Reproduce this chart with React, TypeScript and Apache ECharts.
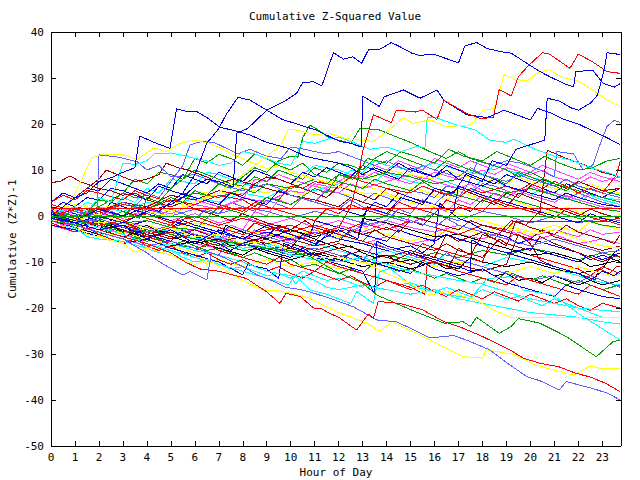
import React, { useEffect, useRef } from "react";
import * as echarts from "echarts";

type P = [number, number];

const TITLE = "Cumulative Z-Squared Value";
const X_NAME = "Hour of Day";
const Y_NAME = "Cumulative (Z*Z)-1";
const X_MAX = 23.78;

// ---- series values: [hour, cumulative value] ----
const L1: P[] = [[0,0],[1,-1.5],[2,0],[3,-1.5],[4,1],[5,2.5],[5.5,4],[6,6.5],[6.5,8],[7,7.5],[7.6,6.3],[7.75,18],[8.2,19],[9,23],[9.7,24.8],[10.25,26.7],[10.5,29],[10.95,29.2],[11.3,28.3],[11.78,35.5],[12.2,34.1],[12.6,34.6],[12.96,33.2],[13.24,36.1],[13.7,36.2],[14.2,37.7],[14.56,36.8],[15.05,35.4],[15.45,34.8],[15.67,35.2],[16,35.1],[16.5,34.2],[17,33.3],[17.27,37],[17.76,37.7],[18.2,36.4],[18.8,35.7],[19.2,35.4],[19.85,33.2],[20.4,31.4],[20.8,30.3],[21.4,28.8],[21.8,28.1],[21.9,31.4],[22.6,31.7],[23.04,28.8],[23.5,28],[23.75,28.8]];
const L2: P[] = [[0,0.5],[1,-1],[2,1.5],[3,0],[4,2],[4.5,1],[5,3],[5.5,5],[6,9],[6.5,15.8],[7,19],[7.3,22],[7.8,25.8],[8.3,25.2],[9,23],[9.65,21],[10.5,19.6],[11.05,18.7],[12.05,16.2],[12.5,15.8],[12.95,15],[13.0,26.1],[13.7,23.8],[13.9,25.9],[14.7,27.4],[15.4,25.6],[16.1,27.4],[16.4,25.1],[17.35,22],[18.2,21.4],[18.9,23],[20,20.9],[20.3,23.4],[20.8,22.5],[21.4,21],[22,20],[22.6,18.5],[23.2,17],[23.75,15.5]];
const L3: P[] = [[0,-0.5],[1,-1.5],[2,-3],[3,-2],[4,-5],[5,-3],[6,-6],[7,-3],[8,-5],[9,-2],[10,-4],[11,-6],[12,-3],[12.8,-5],[13.2,2],[14,0.5],[14.6,4],[15.5,2.5],[16,6],[16.8,5],[17.3,9],[18,7.5],[18.4,12],[19,11],[19.4,14.5],[20,15.5],[20.6,16.5],[20.7,25.6],[21.2,25],[21.7,23.5],[22,23],[22.5,24.5],[22.8,26.3],[23.07,31.6],[23.2,35.5],[23.75,35.1]];
const B0: P[] = [[0,0],[0.5,2],[1,4],[1.5,5],[2,7.5],[2.5,8.3],[3,9.5],[3.5,10.5],[3.7,17.4],[4.3,16],[4.96,14.7],[5.24,23.3],[5.66,22.7],[6.08,22.7],[6.5,21.4],[7.05,19.3],[7.7,18.5],[8.3,17.6],[9,16],[9.7,15],[10,14.5],[10.6,13],[11.2,12.3],[12,11.5],[12.5,10.5],[13,9],[13.5,10.5],[14,9.5],[14.5,11.5],[15,10],[16,8.5],[16.5,10],[17,8],[18,6.5],[18.5,8],[19,6.5],[20,5],[21,3.5],[21.5,5],[22,4],[23,2.5],[23.75,2]];
const RC: P[] = [[0,1],[1,-0.5],[2,-2],[3,-1],[4,-4],[5,-2.5],[6,-1],[7,-2.5],[8,-4],[9,-3],[10,-2],[11,-4],[12,-2.5],[12.5,2],[12.8,8],[13.0,14],[13.45,22],[14.2,20.3],[14.4,23],[15.2,22.6],[15.5,23],[16.1,21],[16.4,25.1],[17.35,22.3],[17.9,21.2],[18.45,21.4],[18.7,27.5],[19.2,26.1],[19.5,30.3],[19.9,32.6],[20.5,35.5],[20.8,35.2],[21.65,32.1],[22.0,35.2],[22.6,33.5],[23.2,31.4],[23.75,31]];
const YD: P[] = [[0,0.5],[1,-1],[2,0.5],[3,-1.5],[4,1],[5,0],[6,3],[7,5],[7.5,7],[8,9],[8.5,11],[9,13],[9.6,15.5],[9.9,18.8],[10.2,18.7],[10.6,18.2],[11,17.7],[11.6,18],[12.3,16.8],[13.45,16.2],[14.1,18.7],[14.7,21.4],[15.1,20.1],[15.8,20.9],[16.5,19.4],[17.5,19.8],[18.04,23],[18.5,23.4],[18.9,30.7],[19.4,29.6],[19.9,29.5],[20.3,31.2],[20.8,31.8],[21.3,30.2],[22.0,29.3],[22.8,26.7],[23.2,25.2],[23.75,23.8]];
const Y3: P[] = [[0,0],[0.8,3],[1.2,7],[1.7,12.7],[2.2,13.5],[3,13.3],[3.6,12.3],[4.3,14.8],[4.8,14],[5.4,15.8],[6,16.5],[6.6,15.8],[7.2,14.5],[7.5,13.6],[8.2,12],[9,10.3],[9.5,11],[10,9.5],[11,8],[12,6.5],[13,5],[14,4.5],[15,3],[16,2],[17,0.5],[18,-1],[19,-2.5],[20,-4],[21,-3],[22,-5],[23,-6.5],[23.75,-7]];
const S1: P[] = [[0,0],[1,-1],[1.9,-1],[2.0,13.3],[2.8,12.8],[3.6,11.8],[4,10],[4.5,11],[5,8.5],[6,9],[7,7],[8,5.5],[9,7],[9.5,6],[10,4.5],[11,3],[12,1.5],[12.5,3.5],[13,2],[14,0.5],[15,-1],[16,-2.5],[16.5,-0.5],[17,-2],[18,-3.5],[19,-5],[20,-6.5],[21,-5],[22,-6.5],[23,-8],[23.75,-7.5]];
const GS: P[] = [[0,0],[1,-2],[2,-3.5],[3,-5],[4,-8],[4.5,-9.9],[5.1,-11.7],[5.5,-12.8],[5.8,-12.1],[6.5,-13.9],[6.7,-8],[7.2,-9],[8,-11],[8.6,-12.8],[9.2,-14],[9.8,-15.5],[10.4,-16],[10.8,-16.5],[11.64,-17.9],[12.6,-19.7],[13.6,-22.6],[14.4,-23],[15,-24.4],[15.8,-26.5],[16.8,-26],[17.35,-27],[18.3,-29.1],[19.15,-32.4],[19.85,-34.9],[20.5,-36],[21.2,-37.8],[21.5,-36],[22.6,-37.5],[23.2,-38.5],[23.75,-40]];
const RH: P[] = [[0,0],[1,-1.5],[2,-3],[3,-4.5],[4,-6],[5,-8],[5.6,-10],[6.2,-11.5],[7,-12],[8.16,-13.6],[9,-16.5],[9.55,-19],[9.8,-16.8],[10.4,-17.5],[10.95,-20],[11.3,-20.2],[11.64,-21.2],[12,-22],[12.75,-24.8],[13.24,-21.3],[13.45,-22.3],[13.65,-18.6],[14.56,-19],[15.5,-20.4],[16.4,-23],[17.2,-24.4],[18,-26.2],[19.15,-29.1],[19.7,-30.9],[20.4,-32],[21.2,-32.8],[21.9,-34.2],[22.5,-35],[23.15,-36.4],[23.75,-38.2]];
const YI: P[] = [[0,0],[1,-2],[1.5,-4],[2,-4.5],[3,-6],[3.5,-7.8],[4,-7],[5,-8.5],[6,-10.5],[6.6,-9.5],[7,-11],[8,-14],[8.85,-16.1],[9.5,-16.3],[10.2,-17],[10.8,-17.9],[11.9,-20.8],[13.2,-23.3],[13.7,-25.1],[14.25,-23],[15.4,-25.9],[16.5,-28.8],[17.2,-30.6],[18,-30.9],[18.15,-29.1],[19.4,-30.2],[20.2,-32.4],[21,-33.5],[21.8,-34.6],[22.5,-32.6],[23,-33.2],[23.75,-33.1]];
const CK: P[] = [[0,0],[1,-1],[2,-2.5],[3,-4],[4,-6],[5,-7.5],[6,-9],[7,-10.5],[8,-12],[9,-13.5],[9.9,-15],[10.2,-13],[10.8,-16.1],[11.5,-17],[12.5,-19],[12.75,-16.4],[13.45,-19],[13.7,-12.1],[14.15,-11.4],[15.1,-15.4],[16.65,-17.2],[17.5,-17.9],[18.2,-13.6],[19.15,-13.2],[19.7,-16.1],[20.95,-17.2],[22.2,-21.9],[23,-24.5],[23.75,-27]];
const CK2: P[] = [[0,0.5],[1,-0.5],[2,-2],[3,-1.5],[4,-3.5],[5,-3],[6,-5],[7,-4.5],[8,-7],[9,-6.5],[10,-8.5],[11,-9.5],[12,-10],[13,-9],[14,-10.5],[15,-12],[16,-13],[17,-14],[18,-14.8],[19,-16.5],[20,-18],[21,-19],[22,-20],[23,-20.5],[23.75,-20.8]];
const YL: P[] = [[0,0],[1,-0.5],[2,-1.5],[3,-1],[4,-3],[5,-2.5],[6,-4.5],[7,-4],[8,-6],[9,-5.5],[10,-7.5],[11,-9],[12,-9],[13.2,-10.3],[14,-12.5],[14.85,-14.3],[15.8,-17.2],[16.5,-16.4],[17.75,-18.3],[18.45,-20.4],[19.15,-22],[23.75,-22]];
const GJ: P[] = [[0,0],[1,-1],[2,-2],[3,-3.5],[4,-3],[5,-4],[6,-5],[7,-5.5],[8,-6],[9,-7],[10,-7.5],[10.8,-8.8],[11.9,-12.1],[13,-14.6],[13.6,-17.2],[14.4,-19],[15.2,-20.8],[16.4,-23.3],[17.2,-23],[17.5,-24],[17.75,-22],[18.7,-25.5],[19.2,-24],[19.5,-22.3],[20.4,-23.3],[21.5,-26.2],[22.75,-30.6],[23.45,-27.3],[23.75,-27]];
const G1: P[] = [[0,0.5],[1,-0.5],[2,1.5],[3,0],[3.5,2.5],[4,1.5],[5,4],[5.5,3],[6,5.5],[6.5,4.5],[7,7],[7.5,6],[8,8.5],[8.5,10.5],[9,9.5],[9.5,12],[10,13],[10.3,12.8],[10.5,17],[10.8,19.8],[11.2,18.5],[11.6,17],[12,16.5],[12.5,15.8],[12.9,19.1],[13.7,18.7],[14.56,16.9],[15.1,15.8],[15.8,14],[16.5,12.5],[17,14],[17.5,12.5],[18.3,11.3],[19,10],[19.5,8.5],[20,9.5],[21,7],[22,5.5],[23,4],[23.75,3]];
const G2: P[] = [[0,-1],[1,-2],[2,-1],[3,1],[3.7,-0.5],[4,4],[4.5,3],[5,6],[5.5,8],[6,12.5],[6.5,11.5],[7,13.4],[7.5,12.5],[8,11],[8.5,13.5],[9,12.5],[9.5,11],[10,10],[10.5,11.5],[11,9],[12,7.5],[13,6],[13.5,8],[14,7],[15,5.5],[15.5,7.5],[16,6],[17,4.5],[18,3],[18.5,5],[19,4],[20,2.5],[21,1],[22,-0.5],[23,-2],[23.75,-2.5]];
const G3: P[] = [[0,0],[1,-1],[2,-2],[3,-1.5],[4,-1],[5,-2.5],[6,-3],[7,2],[8,0.5],[9,4],[10,2.5],[11,6],[11.5,5],[12,9],[12.6,8],[13.2,12.5],[14,11.5],[14.6,14],[15.2,13],[16,11.5],[16.6,14.5],[17.2,13],[18,12],[18.6,14],[19.3,12.5],[20,11],[20.6,13],[21.2,11.5],[22,10],[22.6,10.5],[23.2,12],[23.75,12.5]];
const CY1: P[] = [[0,0.5],[1,2],[1.5,1],[2,4],[2.5,3],[3,11.5],[3.5,11.2],[4,12],[4.3,13.5],[5,13.7],[5.5,13.2],[6,12.5],[6.5,12],[7,11],[7.5,11.5],[8,14],[8.5,13.5],[9,12.5],[9.5,11.5],[10,11],[10.5,16.2],[11,15.8],[11.6,16.8],[12.05,17.1],[12.6,16],[13.3,14.5],[14,15],[14.6,14],[15.3,15.2],[15.6,14.8],[15.7,21.4],[16.1,21.3],[16.8,20],[17.7,18.7],[18.3,16.5],[19,16],[19.3,16.7],[19.6,16],[20.2,14.5],[21,13],[21.8,12],[22.5,10.5],[23.2,9.5],[23.75,8.5]];
const S2: P[] = [[0,-0.5],[1,1],[2,0],[3,3],[3.5,2],[4,5],[4.5,4],[5,7.5],[5.5,11],[5.8,15.5],[6.3,16.2],[6.8,16],[7.2,15],[7.8,13.5],[8.3,14.5],[9,13],[9.6,12.5],[10,15],[10.6,14.5],[11,14],[11.5,13.5],[12,14],[12.5,13],[13,12],[13.5,11],[14,12],[14.6,10.5],[15,9.5],[15.5,11],[16,10],[17,8.5],[17.5,10.5],[18,9],[19,7.5],[19.5,9],[20,8],[21,6.5],[21.5,8],[22,6.5],[23,5],[23.75,4]];
const S3: P[] = [[0,0],[1,-1.5],[2,-0.5],[3,-2.5],[4,-3.5],[5,-2],[6,-4],[7,-5],[8,-3],[9,-4.5],[10,-6],[11,-3.5],[12,-5],[13,-2],[14,-1],[14.5,1.5],[15,0.5],[15.5,3.5],[16,2.5],[16.5,5],[17,4],[17.4,7],[17.8,12],[18.4,11],[19,12],[19.6,11.5],[20.4,10],[21,8.5],[21.1,14],[21.8,13.5],[22.2,10],[22.6,11],[22.9,15.5],[23.2,19.5],[23.5,20.8],[23.75,20.3]];
const M1: P[] = [[0,-1],[0.5,-2],[1,-1.5],[1.5,-3],[2,-2],[3,-4],[3.5,-2.5],[4,-4],[5,-5.5],[5.5,-3],[6,-4],[7,-5.5],[7.5,-2],[8,-3],[8.5,1],[9,0],[9.5,3.5],[10,2.5],[10.5,4],[11,3],[11.5,6],[12,7.5],[12.5,9],[13,8],[13.5,9.5],[14,8.5],[15,7],[15.5,8.5],[16,7.5],[17,6],[17.5,7],[18,5.5],[19,4],[19.5,5.5],[20,4.5],[21,3],[21.5,4.5],[22,3.5],[23,2],[23.75,1.5]];
const M2: P[] = [[0,0.5],[1,-0.5],[2,-2],[3,-1],[4,-2.5],[5,-4],[6,-3],[7,-4.5],[8,-6],[8.5,-3],[9,-4],[10,-5.5],[11,-3],[11.5,-4],[12,-2],[13,-3.5],[14,-1.5],[14.5,-3],[15,0],[15.5,-1],[16,2],[16.5,1],[17,3.5],[17.5,2.5],[18,4.5],[18.5,3],[19,5.5],[19.5,4.5],[20,6.5],[20.5,5.5],[21,5],[22,3.5],[22.5,5],[23,4],[23.75,3]];
const M3: P[] = [[0,-2],[1,-3.5],[2,-2.5],[3,-4],[4,-5.5],[5,-4.5],[6,-6],[7,-7],[7.5,-5.5],[8,-6.5],[9,-4],[10,-5],[11,-3.5],[12,-5],[13,-6],[14,-4.5],[15,-6],[16,-5],[16.5,-3],[17,-4],[18,-5],[19,-3],[19.5,-4],[20,-5.5],[21,-4],[21.5,-5],[22,-6],[23,-5],[23.75,-6]];
const M4: P[] = [[0,0],[1,2],[2,1],[3,3],[4,2],[5,4.5],[6,3.5],[7,2],[8,3.5],[8.5,8],[9,7.5],[9.5,9],[10,8],[11,6.5],[12,5],[12.5,7],[13,6],[14,7.5],[15,9],[15.5,8],[16,9.5],[17,8],[18,10],[18.5,9],[19,10.5],[20,9],[20.5,10],[21,8.5],[22,7],[22.5,8.5],[23,7.5],[23.75,8.5]];
const M5: P[] = [[0,1.5],[1,0],[2,1.5],[3,-0.5],[4,1],[5,-1],[6,0.5],[7,-1.5],[8,0],[9,-2],[10,-0.5],[11,-2.5],[12,-1],[13,-2.5],[14,-1],[15,-2.5],[16,-3.5],[17,-2],[18,-3.5],[19,-5],[19.5,-3.5],[20,-4.5],[21,-3],[22,-4.5],[22.5,-3],[23,-4],[23.75,-3.5]];
const BL1: P[] = [[0,1],[0.5,3],[1,2],[1.5,4],[2,3.5],[2.5,6],[3,5.5],[3.5,4.5],[4,3.5],[4.5,6.5],[5,5.5],[6,4],[7,2.5],[7.5,5],[8,4],[9,2.5],[9.5,5.5],[10,4.5],[11,3],[12,1.5],[13,0],[13.5,3],[14,2],[14.5,5],[15,4],[16,2.5],[16.8,1],[17,6.5],[17.5,5.5],[18,4.5],[19,3],[20,1.5],[21,0],[22,-1.5],[22.5,0.5],[23,-0.5],[23.75,-1.5]];
const BL2: P[] = [[0,-1],[1,-2.5],[2,-1],[2.5,3],[3,2],[4,0.5],[5,-1],[6,-2.5],[7,-4],[7.5,-2],[8,-3],[9,-4.5],[9.5,-2],[10,-3],[10.8,-4.5],[11,-1],[12,-2.5],[13,-4],[14,-5.5],[14.5,-3],[15,-4],[16,-5.5],[16.5,-4],[17,-5],[18,-6.5],[19,-8],[20,-7],[21,-8.5],[22,-10],[22.5,-8.5],[23,-9.5],[23.75,-8]];
const BL3: P[] = [[0,2],[1,0.5],[2,-1],[3,-2.5],[4,-1],[5,-2.5],[5.5,-1],[6,-2],[7,-3.5],[8,-5],[9,-3.5],[10,-5],[11,-6.5],[11.5,-4],[12,-5],[13,-6],[14,-7.5],[15,-6.5],[15.5,-8],[16,-6],[16.2,2.8],[16.5,1.5],[17,-0.5],[17.5,-1.5],[18,-3],[19,-4.5],[19.5,-6],[20,-5],[21,-6.5],[22,-8],[22.5,-9.5],[23,-8.5],[23.75,-10]];
const BL4: P[] = [[0,-2],[1,-3],[2,-4.5],[3,-6],[4,-5],[5,-7],[6,-8.5],[7,-10],[8,-12.8],[8.2,-10.6],[9,-11.5],[9.5,-13.6],[9.7,-6],[10.5,-7.5],[11,-9],[12,-10.5],[13,-12],[13.5,-17],[13.6,-5.5],[14,-6.5],[15,-8],[16,-9.5],[17,-11],[17.5,-12],[17.55,-5.2],[18,-6.5],[19,-8],[20,-9.5],[21,-11],[22,-12.5],[22.5,-14],[23,-12],[23.5,-13],[23.75,-12]];
const BL5: P[] = [[0,0],[1,-1.5],[2,-3],[2.5,-1],[3,-2.5],[4,-4],[5,-5.5],[5.5,-3],[6,-4.5],[7,-6],[7.5,-7.5],[8,-6],[9,-7.5],[10,-9],[10.5,-7],[11,-8.5],[12,-10],[12.5,-8],[13,-9.5],[14,-11],[15,-12.5],[15.5,-10],[16,-11.5],[17,-13],[18,-11.5],[18.5,-13],[19,-14.5],[20,-16],[21,-17.5],[21.5,-15],[22,-16],[23,-17.5],[23.75,-18]];
const R1: P[] = [[0,2.5],[1,1],[2,-0.5],[2.5,2],[3,1],[4,-0.5],[5,-2],[5.5,0],[6,-1],[7,-2.5],[8,-4],[8.5,-1.5],[9,-2.5],[10,-4],[11,-5.5],[11.5,-3],[12,-4],[13,-5.5],[14,-7],[15,-8.5],[15.5,-6],[16,-7],[17,-8.5],[18,-10],[18.3,-6],[19,-7],[20,-8.5],[21,-10],[22,-11.5],[22.5,-13],[23,-11],[23.75,-12.5]];
const R2: P[] = [[0,-0.5],[1,-2],[2,-3.5],[3,-5],[3.5,-3],[4,-4.5],[5,-6],[6,-7.5],[6.5,-6],[7,-7.5],[8,-9],[9,-10.5],[9.5,-9],[10,-10.5],[11,-12],[11.5,-10],[12,-11],[13,-12.5],[14,-14],[15,-15.5],[15.6,-17],[15.7,-10],[16.3,-10.5],[17,-12],[18,-13.5],[19,-15],[19.5,-13],[20,-14],[21,-15.5],[22,-17],[22.5,-15],[23,-16],[23.75,-17.5]];
const R3: P[] = [[0,3],[0.5,4.5],[1,3.5],[1.5,5.5],[2,5],[3,3.5],[3.5,5.5],[4,4.5],[5,3],[5.5,5],[6,4],[7,2.5],[8,1],[8.5,3],[9,2],[10,0.5],[11,-1],[11.5,1.5],[12,0.5],[12.5,2.5],[13,1.5],[14,0],[14.5,3],[15,2],[16,0.5],[16.5,3.5],[17,2.5],[18,1],[18.5,3.5],[19,2.5],[20,1],[21,-0.5],[21.5,1.5],[22,0.5],[23,-1],[23.75,-0.5]];
const R4: P[] = [[0,1],[1,-0.5],[2,1],[3,-1],[4,0.5],[5,-1.5],[6,0],[7,-2],[8,-0.5],[9,-2],[10,-3.5],[11,-2],[12,-3.5],[13,-1.5],[14,-3],[15,-1],[16,-2.5],[17,-4],[18,-2],[19,-3],[19.3,-1.2],[23.3,-1.2],[23.75,-2]];
const R5: P[] = [[0,0],[1,1.5],[2,0.5],[3,2.5],[4,1.5],[5,3.5],[6,2.5],[7,4.5],[8,3.5],[8.5,2],[9,4],[9.5,3.5],[10,6.5],[10.5,6],[11,7.5],[12,6.5],[12.5,8.5],[13,7.5],[14,6],[15,5],[15.5,6.5],[16,5.5],[17,4],[17.5,6],[18,5],[19,6.5],[19.5,5.5],[20,7],[20.5,6],[21,7.5],[21.5,6.5],[22,5],[22.5,6],[23,5],[23.6,9],[23.75,12]];
const DR1: P[] = [[0,7.2],[0.4,7.6],[0.8,8.7],[1.2,7.5],[2,6],[2.5,5.5],[3,4.5],[3.5,5],[4,3.5],[5,2],[5.5,3],[6,1.5],[7,0],[7.5,-1],[8,0.5],[9,-1.5],[10,-3],[10.6,-1],[11,-2.5],[12,-4],[13,-5.5],[13.5,-3],[14,-4.5],[15,-6],[16,-7.5],[16.5,-6],[17,-7.5],[18,-9],[18.7,-5],[19,-6],[20,-7.5],[20.4,-4.5],[21,-6],[22,-8],[22.5,-9],[23,-10],[23.6,-8.5],[23.75,-9]];
const DR2: P[] = [[0,1],[1,-0.5],[2,-2],[3,-1],[4,-3],[5,-4.5],[6,-3],[7,-5],[8,-6.5],[9,-5],[10,-7],[11,-8.5],[12,-7],[13,-9],[14,-10.5],[15,-8],[16,-10],[16.6,-11],[17,-7],[17.5,-8.5],[18,-4],[18.5,-5],[19.2,-1],[19.8,-2],[20.4,1],[20.7,14.3],[21.5,12.5],[22.3,11],[23,9.5],[23.75,8.5]];
const DR3: P[] = [[0,-1],[1,-2.5],[2,-1.5],[3,-3],[4,-4.5],[5,-3.5],[6,-5],[7,-6.5],[7.5,-5],[8,-6],[9,-7.5],[10,-6],[11,-7.5],[12,-9],[13,-7.5],[14,-9],[15,-10.5],[16,-9],[17,-10.5],[18,-12],[19,-10.5],[19.5,-4],[20,-6],[20.4,-9.6],[21,-11],[22,-12.5],[22.7,-13.9],[22.85,-11.4],[23.3,-12.5],[23.6,-11],[23.75,-11]];
const DR4: P[] = [[0,0],[0.5,2],[1,4],[1.5,6],[2,8],[2.3,10],[3,8.5],[3.5,7.5],[4,8],[4.5,9],[4.8,11.5],[5.3,10.5],[5.7,10],[6.5,8.5],[7,7],[7.6,8],[8.3,7],[9,6],[10,4.5],[11,3.5],[12,2],[12.5,4],[13,3],[14,1.5],[15,0],[16,-1.5],[17,-3],[17.5,-1],[18,-2],[19,-3.5],[20,-5],[20.5,-3],[21,-4.5],[22,-6],[23,-7.5],[23.75,-6.5]];
const DR5: P[] = [[0,0.5],[1,-1],[2,-2.5],[3,-1.5],[4,-3],[5,-4.5],[6,-3],[7,-4.5],[8,-6],[9,-4.5],[10,-6],[11,-7.5],[12,-6],[13,-7.5],[14,-9],[15,-7.5],[16,-9],[16.5,-4],[17,-5.5],[18,-3.5],[18.5,-5],[19,-6.5],[19.4,-1],[20,-2.5],[21,-4],[21.5,-2],[22,-3.5],[23,-5],[23.5,-6],[23.75,-4]];
const BK1: P[] = [[0,0],[1,-1.5],[2,-3],[3,-4.5],[4,-3],[5,-4.5],[6,-6],[7,-5],[7.3,-2],[8,-3.5],[9,-5],[10,-3],[11,-4.5],[12,-3],[12.8,-5],[13,-0.5],[14,-1.5],[15,-3],[16,-4.5],[17,-4],[18,-5.5],[19,-7],[20,-8.5],[21,-8],[22,-9.5],[22.5,-11],[23,-10.5],[23.75,-9.5]];
const BK2: P[] = [[0,-1],[1,-2.5],[2,-4],[3,-3],[4,-5],[5,-6.5],[6,-5.5],[7,-7],[8,-8.5],[8.5,-7],[9,-8],[10,-9.5],[11,-8],[12,-9.5],[13,-11],[14,-10],[15,-11.5],[16,-10],[17,-11.5],[17.5,-9],[18,-10],[19,-11],[20,-10],[21,-11.5],[22,-12.5],[23,-11.5],[23.5,-8],[23.75,-7]];
const Y5: P[] = [[0,1],[1,2.5],[2,1.5],[3,3],[4,2],[5,1],[6,3],[7,5.5],[7.5,4.5],[8,6],[9,5],[10,6.5],[10.5,9],[11,8],[12,7],[13,9.5],[13.5,8.5],[14,10],[15,9],[16,8],[16.5,10],[17,9],[18,8],[19,7],[19.5,8.5],[20,7.5],[21,6],[22,5],[22.5,7],[23,6],[23.75,5]];
const Y6: P[] = [[0,-1.5],[1,-3],[2,-4.5],[3,-3.5],[4,-5],[5,-6.5],[6,-8],[6.5,-10.5],[7,-9.5],[8,-11],[9,-9.5],[10,-11],[11,-10],[12,-11.5],[13,-10],[14,-11],[15,-9.5],[16,-11],[17,-10],[18,-11],[19,-12.5],[20,-11],[21,-12.5],[22,-11],[23,-12.5],[23.75,-13]];
const Y7: P[] = [[0,0],[1,-1.5],[2,-1],[3,-2.5],[4,-2],[5,-3.5],[6,-1.5],[7,-2.5],[8,-3],[9,-4],[10,-4.5],[11,-3],[12,-4.5],[13,-2.5],[14,-4],[15,-5.5],[16,-4],[17,-2.5],[18,-4],[19,-2],[20,-3.5],[21,-2],[22,-3.5],[22.5,-1],[23,-2],[23.75,-3]];
const CY3: P[] = [[0,0],[0.5,-1],[1,-2.5],[1.5,-4.5],[2,-5],[3,-5.5],[4,-7],[5,-6],[6,-7.5],[7,-8.5],[8,-10],[8.5,-11],[9,-12],[10,-13],[10.2,-14.8],[10.5,-13],[11,-14],[11.5,-15.5],[12,-16],[13,-15],[14,-16],[15,-17],[16,-16],[17,-18],[18,-19],[19,-20],[20,-21],[21,-21.5],[22,-22],[23,-23],[23.75,-23.5]];
const CY4: P[] = [[0,1],[1,0],[2,2],[3,1],[4,3],[5,2],[6,4],[7,3],[8,5],[9,4],[10,6.5],[11,5.5],[12,7],[12.5,10],[13,9.5],[13.5,12],[14,11],[15,10],[16,11.5],[17,10],[18,9],[18.5,11],[19,10],[20,8.5],[21,7],[22,5.5],[23,4],[23.75,3.5]];
const CY5: P[] = [[0,-0.5],[1,-1.5],[2,-3],[3,-4.5],[4,-3.5],[5,-5],[6,-4],[7,-5.5],[8,-7],[9,-6],[10,-7.5],[11,-6],[12,-7.5],[13,-9],[14,-7.5],[15,-9],[16,-10.5],[16.5,-8],[17,-9.5],[18,-11],[19,-9],[20,-10],[21,-11.5],[22,-13],[23,-14.5],[23.75,-15]];
const GR4: P[] = [[0,0],[1,-1],[2,-2],[3,-3],[3.5,-5],[4,-4],[5,-6],[6,-7],[7,-6],[8,-7.5],[9,-7],[10,-8.5],[11,-8],[11.5,-10],[12,-9],[13,-10],[14,-8.5],[15,-9.5],[16,-8],[17,-9],[18,-7.5],[19,-8.5],[20,-7],[21,-8],[22,-9.5],[23,-8],[23.75,-9]];
const GR5: P[] = [[0,1],[1,0],[2,2],[3,5],[3.5,4],[4,4.5],[5,3],[6,5],[7,4],[8,6],[8.5,5],[9,7],[10,6],[11,8],[11.5,7],[12,9],[13,8],[14,9.5],[15,8.5],[16,7],[17,8],[18,6.5],[19,5],[20,6],[21,4.5],[22,3],[23,1.5],[23.75,1]];
const S4: P[] = [[0,-1],[1,-2],[2,-3.5],[3,-5],[4,-6.5],[5,-5.5],[6,-7],[7,-8.5],[7.5,-4],[8,-5],[9,-6.5],[10,-8],[11,-7],[12,-8.5],[13,-10],[13.5,-6],[14,-7],[15,-8.5],[16,-10],[16.5,-8],[17,-9.5],[18,-11],[19,-12.5],[20,-14],[21,-13],[22,-14.5],[22.5,-13],[23,-14],[23.75,-15.5]];
const S5: P[] = [[0,0.5],[1,2],[2,1],[3,2.5],[4,1.5],[5,0],[6,1.5],[7,0.5],[8,2],[9,1],[10,-0.5],[11,1],[12,0],[13,-1.5],[14,0],[15,-1.5],[16,0.5],[17,-1],[18,1],[19,0],[20,-1.5],[21,0],[22,-1.5],[23,-0.5],[23.75,-1]];
const N1: P[] = [[0,3],[0.5,5],[1,4],[1.5,6],[2,5.5],[2.5,8],[3,7],[3.5,6],[4,5],[4.5,7],[5,6],[5.5,9],[6,8],[6.5,7],[7,9.5],[7.5,8.5],[8,7.5],[8.5,10],[9,9],[9.5,8],[10,7],[10.5,9.5],[11,8.5],[11.5,10.5],[12,9.5],[12.5,8.5],[13,11],[13.5,10],[14,9],[14.5,8],[15,10.5],[15.5,9.5],[16,8.5],[16.5,11],[17,10],[17.5,9],[18,8],[18.5,7],[19,9],[19.5,8],[20,7],[20.5,6],[21,5],[21.5,7],[22,6],[22.5,5],[23,4],[23.75,6]];
const N2: P[] = [[0,-0.5],[0.5,0.5],[1,2],[1.5,1],[2,3.5],[2.5,3],[3,5],[3.5,8],[4,7],[4.5,9.5],[5,9],[5.5,8],[6,10],[6.5,9],[7,8],[7.5,7],[8,6.5],[8.5,8.5],[9,7.5],[9.5,10],[10,9],[10.5,8],[11,10.5],[11.5,9.5],[12,11.5],[12.5,11],[13,10],[13.5,12.5],[14,14],[14.5,13],[15,12],[15.5,11],[16,10],[16.5,12],[17,11],[17.5,10],[18,9],[18.5,8],[19,7],[19.5,9.5],[20,8.5],[20.5,7.5],[21,6.5],[21.5,5.5],[22,7.5],[22.5,6.5],[23,5.5],[23.75,4.5]];
const N3: P[] = [[0,0],[0.5,1.5],[1,1],[1.5,3],[2,2],[2.5,1.5],[3,4],[3.5,3],[4,6],[4.5,5],[5,8],[5.5,7.5],[6,7],[6.5,9.5],[7,9],[7.5,8],[8,7],[8.5,6.5],[9,8.5],[9.5,8],[10,7],[10.5,9],[11,11],[11.5,10.5],[12,10],[12.5,9],[13,8.5],[13.5,7.5],[14,9.5],[14.5,8.5],[15,7.5],[15.5,7],[16,8.5],[16.5,7.5],[17,6.5],[17.5,5.5],[18,8],[18.5,7.5],[19,6.5],[19.5,5.5],[20,4.5],[20.5,6],[21,5],[21.5,4],[22,3],[22.5,4.5],[23,3.5],[23.75,2.5]];
const N4: P[] = [[0,-0.5],[0.5,-1.5],[1,-0.5],[1.5,-2],[2,-1],[2.5,1],[3,0],[3.5,2.5],[4,2],[4.5,4],[5,3.5],[5.5,2.5],[6,5.5],[6.5,5],[7,7.5],[7.5,7],[8,6],[8.5,5],[9,7],[9.5,6.5],[10,5.5],[10.5,4.5],[11,6.5],[11.5,6],[12,5],[12.5,4.5],[13,6.5],[13.5,6],[14,5],[14.5,4],[15,6],[15.5,5.5],[16,4.5],[16.5,3.5],[17,5.5],[17.5,4.5],[18,3.5],[18.5,2.5],[19,1.5],[19.5,3],[20,2],[20.5,1],[21,0.5],[21.5,2],[22,1],[22.5,0],[23,-1],[23.75,0.5]];
const N5: P[] = [[0,-1.5],[0.5,-2.5],[1,-3.5],[1.5,-2.5],[2,-4],[2.5,-5],[3,-6],[3.5,-5],[4,-6.5],[4.5,-7.5],[5,-6.5],[5.5,-8],[6,-9],[6.5,-8],[7,-9.5],[7.5,-10.5],[8,-9.5],[8.5,-11],[9,-12],[9.5,-11],[10,-12.5],[10.5,-13.5],[11,-12],[11.5,-13],[12,-14],[12.5,-13],[13,-14.5],[13.5,-15.5],[14,-14],[14.5,-15],[15,-16],[15.5,-15],[16,-16.5],[16.5,-17.5],[17,-16],[17.5,-17],[18,-18],[18.5,-16.5],[19,-17.5],[19.5,-18.5],[20,-17],[20.5,-18],[21,-19],[21.5,-18],[22,-19.5],[22.5,-20.5],[23,-19],[23.75,-20]];
const N6: P[] = [[0,0.5],[0.5,-0.5],[1,-1.5],[1.5,-1],[2,-2.5],[2.5,-2],[3,-3.5],[3.5,-3],[4,-2],[4.5,-3.5],[5,-3],[5.5,-4.5],[6,-4],[6.5,-5.5],[7,-5],[7.5,-6.5],[8,-6],[8.5,-5],[9,-6.5],[9.5,-7.5],[10,-7],[10.5,-4],[11,-5],[11.5,-6],[12,-7],[12.5,-6.5],[13,-8],[13.5,-9],[14,-8.5],[14.5,-10],[15,-9.5],[15.5,-10.5],[16,-10],[16.5,-11.5],[17,-11],[17.5,-12],[18,-11.5],[18.5,-13],[19,-12.5],[19.5,-14],[20,-13.5],[20.5,-14.5],[21,-13],[21.5,-14],[22,-15],[22.5,-14],[23,-15],[23.75,-14]];
const N7: P[] = [[0,1],[0.5,0],[1,1.5],[1.5,0.5],[2,2],[2.5,1],[3,0],[3.5,2],[4,1],[4.5,0],[5,1.5],[5.5,0.5],[6,-0.5],[6.5,1.5],[7,0.5],[7.5,3],[8,2],[8.5,1],[9,3.5],[9.5,2.5],[10,1.5],[10.5,4],[11,3],[11.5,5.5],[12,5],[12.5,4],[13,3],[13.5,5],[14,4],[14.5,3],[15,5.5],[15.5,5],[16,4],[16.5,6.5],[17,6],[17.5,5],[18,7],[18.5,6.5],[19,5.5],[19.5,4.5],[20,6.5],[20.5,5.5],[21,4.5],[21.5,3.5],[22,5],[22.5,4],[23,3],[23.75,2]];
const N8: P[] = [[0,0],[1,-1],[2,0.5],[3,-0.5],[4,1.5],[5,0.5],[6,2.5],[7,1.5],[8,4],[9,3],[10,5.5],[10.5,5],[11,7],[12,6],[12.5,9],[13,8.5],[13.5,11],[14,10],[14.5,12],[15,11],[15.5,10],[16,12.5],[16.5,11.5],[17,10.5],[17.5,12],[18,11],[18.5,10],[19,11.5],[19.5,10.5],[20,9.5],[20.5,11],[21,10],[21.5,9],[22,8],[22.5,9.5],[23,8.5],[23.75,7.5]];
const N9: P[] = [[0,0.5],[1,2],[2,1],[3,3],[4,2],[5,4.5],[6,3.5],[7,5.5],[8,4.5],[8.5,7],[9,8.5],[9.5,8],[10,7],[10.5,6],[11,5],[11.5,4],[12,6.5],[12.5,5.5],[13,4.5],[13.5,3.5],[14,6],[14.5,5],[15,4],[15.5,3],[16,5.5],[16.5,4.5],[17,6],[17.5,5],[18,4],[18.5,3],[19,2],[19.5,5],[20,4],[20.5,3],[21,2],[21.5,1],[22,0],[22.5,1.5],[23,0.5],[23.75,-0.5]];
const N10: P[] = [[0,-0.5],[1,-1.5],[2,-3],[3,-2],[4,-3.5],[5,-5],[6,-4],[7,-5.5],[8,-4.5],[9,-6],[10,-5],[11,-6.5],[12,-5.5],[12.5,-3],[13,-4],[14,-2.5],[14.5,-3.5],[15,-1],[15.5,-2],[16,0.5],[16.5,-0.5],[17,2],[17.5,1],[18,3.5],[18.5,2.5],[19,5],[19.5,4],[20,6.5],[20.5,8],[21,7],[21.5,6],[22,7.5],[22.5,6.5],[23,5.5],[23.75,6]];
const N11: P[] = [[0,-1],[0.5,-2],[1,-3],[1.5,-4],[2,-3.5],[2.5,-5],[3,-6],[3.5,-5.5],[4,-7],[4.5,-8],[5,-7.5],[5.5,-9],[6,-10],[6.5,-9.5],[7,-10.5],[7.5,-11.5],[8,-11],[8.5,-12],[9,-13],[9.5,-12.5],[10,-13.5],[10.5,-12],[11,-13],[11.5,-14],[12,-13.5],[12.5,-14.5],[13,-15.5],[13.5,-13],[14,-14],[14.5,-15],[15,-14.5],[15.5,-15.5],[16,-16.5],[16.5,-15.5],[17,-16.5],[17.5,-17.5],[18,-16],[18.5,-17],[19,-18],[19.5,-17.5],[20,-18.5],[20.5,-19.5],[21,-18],[21.5,-19],[22,-20],[22.5,-21],[23,-22],[23.75,-22]];
const N12: P[] = [[0,0.5],[0.5,-0.5],[1,-1.5],[1.5,-1],[2,-2.5],[2.5,-3.5],[3,-3],[3.5,-4.5],[4,-5.5],[4.5,-5],[5,-6.5],[5.5,-5.5],[6,-6.5],[6.5,-7.5],[7,-7],[7.5,-8],[8,-9],[8.5,-8],[9,-9],[9.5,-10],[10,-9.5],[10.5,-11],[11,-10.5],[11.5,-11.5],[12,-12.5],[12.5,-11.5],[13,-12.5],[13.5,-10],[14,-11],[14.5,-12],[15,-11.5],[15.5,-12.5],[16,-13.5],[16.5,-12.5],[17,-13.5],[17.5,-14.5],[18,-13.5],[18.5,-14.5],[19,-12],[19.5,-13],[20,-14],[20.5,-13],[21,-14],[21.5,-15],[22,-14],[22.5,-15],[23,-16],[23.75,-15]];
const RF: P[] = [[0,1.7],[23.78,1.7]];
const GF: P[] = [[0,0],[23.78,0]];

const C = {
  red: "#ff0000",
  green: "#00a000",
  blue: "#0000e0",
  magenta: "#ff44ff",
  cyan: "#00ffff",
  darkred: "#a00000",
  yellow: "#ffff00",
  black: "#000000",
  slate: "#6060ff",
};

const LINES: [P[], string][] = [
  [M3, C.magenta], [M5, C.magenta], [Y7, C.yellow], [S5, C.slate], [GR4, C.green], [CY5, C.cyan],
  [N3, C.cyan], [N4, C.yellow], [N7, C.slate], [N8, C.magenta], [N11, C.cyan], [N12, C.green],
  [BK2, C.black], [DR5, C.darkred], [DR3, C.darkred], [R1, C.red], [BL2, C.blue], [BL3, C.blue],
  [M1, C.magenta], [M2, C.magenta], [M4, C.magenta], [Y5, C.yellow], [Y6, C.yellow], [CY4, C.cyan],
  [N1, C.blue], [N2, C.green], [N5, C.red], [N6, C.black], [N9, C.darkred], [N10, C.darkred],
  [GR5, C.green], [S4, C.slate], [BK1, C.black], [R2, C.red], [R3, C.red], [R4, C.red], [R5, C.red],
  [DR1, C.darkred], [DR2, C.darkred], [DR4, C.darkred], [BL1, C.blue], [BL4, C.blue], [BL5, C.blue],
  [CY3, C.cyan], [CK, C.cyan], [CK2, C.cyan], [YL, C.yellow], [YI, C.yellow], [GJ, C.green],
  [GS, C.slate], [RH, C.red], [S1, C.slate], [S2, C.slate], [S3, C.slate], [Y3, C.yellow],
  [G1, C.green], [G2, C.green], [G3, C.green], [CY1, C.cyan], [YD, C.yellow], [B0, C.blue],
  [L1, C.blue], [L2, C.blue], [L3, C.blue], [RC, C.red], [GF, C.green], [RF, C.red],
];

const FONT = "'DejaVu Sans Mono', monospace";

export default function App() {
  const ref = useRef<HTMLDivElement>(null);
  useEffect(() => {
    if (!ref.current) return;
    const chart = echarts.init(ref.current, undefined, { renderer: "svg" });
    const axisCommon = {
      axisLine: { show: true, onZero: false, lineStyle: { color: "#000", width: 1 } },
      axisTick: { show: true, inside: true, length: 5, lineStyle: { color: "#000" } },
      splitLine: { show: false },
    };
    const isInt = (v: number) => Math.abs(v - Math.round(v)) < 1e-6;
    chart.setOption({
      animation: false,
      backgroundColor: "#fff",
      graphic: [
        {
          type: "text",
          x: 335,
          y: 16,
          style: { text: TITLE, align: "center", verticalAlign: "middle", font: `11px ${FONT}`, fill: "#000" },
        },
      ],
      grid: { left: 51, top: 32, width: 570, height: 414, containLabel: false, outerBoundsMode: "none" },
      xAxis: [
        {
          type: "value", position: "bottom", min: 0, max: X_MAX, interval: 1,
          name: X_NAME, nameLocation: "middle", nameGap: 21, nameMoveOverlap: false,
          nameTextStyle: { fontFamily: FONT, fontSize: 11, color: "#000" },
          axisLabel: { fontFamily: FONT, fontSize: 11, color: "#000", margin: 6, formatter: (v: number) => (isInt(v) && v <= 23 ? String(Math.round(v)) : "") },
          ...axisCommon,
        },
        {
          type: "value", position: "top", min: 0, max: X_MAX, interval: 1,
          axisLabel: { show: false },
          ...axisCommon,
        },
      ],
      yAxis: [
        {
          type: "value", position: "left", min: -50, max: 40, interval: 10,
          name: Y_NAME, nameLocation: "middle", nameGap: 33, nameRotate: 90, nameMoveOverlap: false,
          nameTextStyle: { fontFamily: FONT, fontSize: 11, color: "#000" },
          axisLabel: { fontFamily: FONT, fontSize: 11, color: "#000", margin: 7 },
          ...axisCommon,
        },
        {
          type: "value", position: "right", min: -50, max: 40, interval: 10,
          axisLabel: { show: false },
          ...axisCommon,
        },
      ],
      series: LINES.map(([data, color], i) => ({
        type: "line",
        name: "s" + i,
        data,
        showSymbol: false,
        symbol: "none",
        silent: true,
        clip: true,
        lineStyle: { color, width: 1 },
        itemStyle: { color },
      })),
    });
    return () => chart.dispose();
  }, []);
  return (
    <>
      <style>{"#zchart svg path{shape-rendering:crispEdges}"}</style>
      <div id="zchart" ref={ref} style={{ position: "absolute", left: 0, top: 0, width: 640, height: 480 }} />
    </>
  );
}
